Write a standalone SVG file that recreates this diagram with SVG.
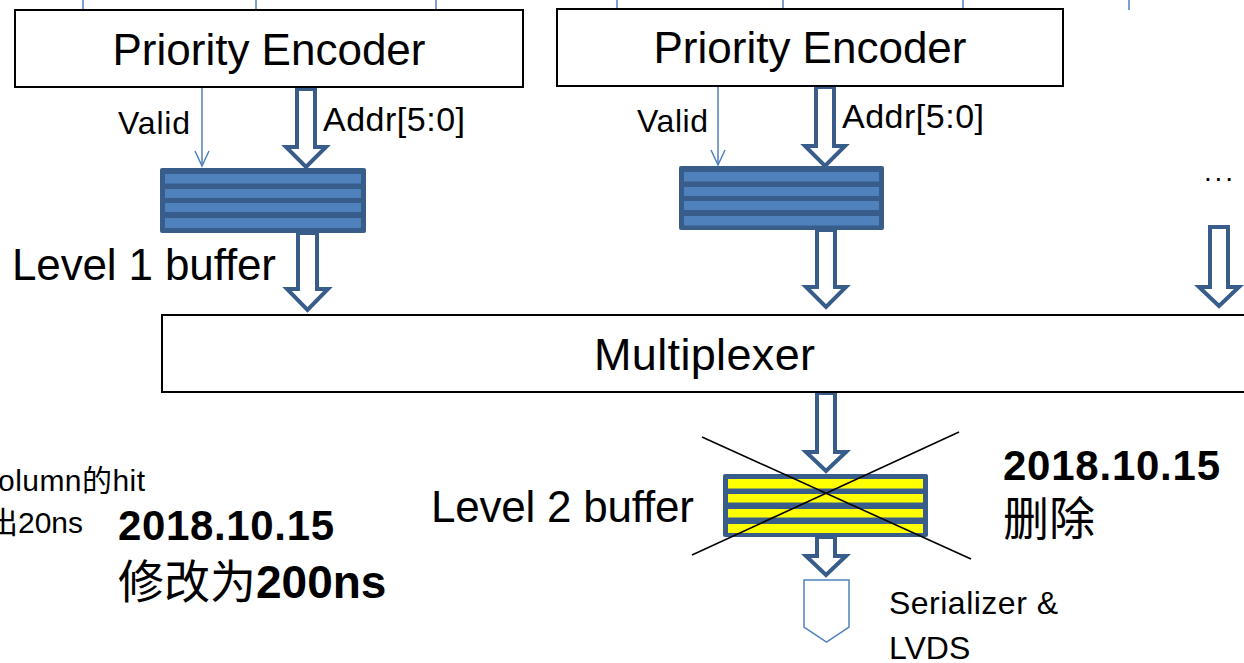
<svg xmlns="http://www.w3.org/2000/svg" width="1244" height="663" viewBox="0 0 1244 663">
<defs>
<style>
.box{fill:#fff;stroke:#000;stroke-width:2}
.t{font-family:"Liberation Sans","Noto Sans CJK SC",sans-serif;fill:#000}
.thin{stroke:#4f81bd;stroke-width:1.5;fill:none}
.barrow{fill:#fff;stroke:#385d8a;stroke-width:4;stroke-linejoin:miter}
.bufo{fill:#385d8a}
.blue{fill:#4f81bd}
.yel{fill:#ffff00}
.cross{stroke:#000;stroke-width:1.6}
</style>
</defs>
<g id="connectors">
<line class="thin" x1="83" y1="0" x2="83" y2="10"/>
<line class="thin" x1="256" y1="0" x2="256" y2="10"/>
<line class="thin" x1="436" y1="0" x2="436" y2="10"/>
<line class="thin" x1="617" y1="0" x2="617" y2="9"/>
<line class="thin" x1="783" y1="0" x2="783" y2="9"/>
<line class="thin" x1="963" y1="0" x2="963" y2="9"/>
<line class="thin" x1="1129" y1="0" x2="1129" y2="10"/>
<path class="thin" d="M202,88 V166"/>
<path d="M195,151 L202,166 L209,151" class="thin"/>
<path class="thin" d="M718,87 V165"/>
<path d="M711,150 L718,165 L725,150" class="thin"/>
<path class="barrow" d="M297,89 H315 V147 H326 L306,167 L286,147 H297 Z"/>
<path class="barrow" d="M816,87 H834 V146 H845 L825,166 L805,146 H816 Z"/>
<path class="barrow" d="M298,233 H317 V289 H328 L307.5,310 L287,289 H298 Z"/>
<path class="barrow" d="M817,230 H835 V287 H846 L826,307 L806,287 H817 Z"/>
<path class="barrow" d="M1210,227 H1228 V287 H1239 L1219,306 L1199,287 H1210 Z"/>
<path class="barrow" d="M817,393 H835 V452 H846 L826,471 L806,452 H817 Z"/>
<path class="barrow" d="M817,537 H835 V556 H846 L826,575 L806,556 H817 Z"/>
</g>
<g id="pe1">
<rect class="box" x="15" y="10" width="508" height="77"/>
<text class="t" x="269" y="65" font-size="44" text-anchor="middle">Priority Encoder</text>
</g>
<g id="pe2">
<rect class="box" x="557" y="9" width="506" height="77"/>
<text class="t" x="810" y="63" font-size="44" text-anchor="middle">Priority Encoder</text>
</g>
<g id="labels1">
<text class="t" x="118" y="134" font-size="32" textLength="72">Valid</text>
<text class="t" x="323" y="131" font-size="34" textLength="142">Addr[5:0]</text>
<text class="t" x="637" y="132" font-size="32" textLength="71">Valid</text>
<text class="t" x="842" y="128" font-size="34" textLength="142">Addr[5:0]</text>
<text class="t" x="1204" y="181" font-size="28" textLength="29">...</text>
</g>
<g id="buf1">
<rect class="bufo" x="160" y="168" width="206" height="65" rx="2"/>
<rect class="blue" x="165" y="174" width="196" height="9.5"/>
<rect class="blue" x="165" y="189" width="196" height="9"/>
<rect class="blue" x="165" y="203" width="196" height="9"/>
<rect class="blue" x="165" y="218" width="196" height="10"/>
</g>
<g id="buf2">
<rect class="bufo" x="679" y="166" width="205" height="64" rx="2"/>
<rect class="blue" x="684" y="172" width="195" height="9.5"/>
<rect class="blue" x="684" y="187" width="195" height="9"/>
<rect class="blue" x="684" y="201" width="195" height="9"/>
<rect class="blue" x="684" y="216" width="195" height="9.5"/>
</g>
<g id="lvl1label">
<text class="t" x="12" y="280" font-size="44" textLength="264">Level 1 buffer</text>
</g>
<g id="mux">
<rect class="box" x="162" y="315" width="1090" height="77"/>
<text class="t" x="594" y="370" font-size="45" textLength="221">Multiplexer</text>
</g>
<g id="buf3">
<rect class="bufo" x="723" y="474" width="205" height="63" rx="2"/>
<rect class="yel" x="728" y="479" width="195" height="9.5"/>
<rect class="yel" x="728" y="494" width="195" height="8.5"/>
<rect class="yel" x="728" y="509" width="195" height="8.5"/>
<rect class="yel" x="728" y="524" width="195" height="9"/>
<line class="cross" x1="702" y1="437" x2="971" y2="559"/>
<line class="cross" x1="692" y1="555" x2="959" y2="432"/>
</g>
<g id="lvl2label">
<text class="t" x="431" y="522" font-size="44" textLength="263">Level 2 buffer</text>
</g>
<g id="ser">
<path d="M804,580 H849 V627 L826.5,642 L804,627 Z" fill="#fff" stroke="#4f81bd" stroke-width="1.5"/>
<text class="t" x="889" y="614" font-size="32" textLength="169">Serializer &amp;</text>
<text class="t" x="889" y="659" font-size="32">LVDS</text>
</g>
<g id="notes">
<text class="t" x="1003" y="480" font-size="42" font-weight="bold" textLength="217">2018.10.15</text>
<text class="t" x="1003" y="535" font-size="46">删除</text>
<text class="t" x="118" y="540" font-size="42" font-weight="bold" textLength="216">2018.10.15</text>
<text class="t" x="118" y="598" font-size="46">修改为<tspan font-weight="bold">200ns</tspan></text>
<text class="t" x="-2" y="491" font-size="30" textLength="147">olumn的hit</text>
<text class="t" x="-12" y="533" font-size="30">出20ns</text>
</g>
</svg>
